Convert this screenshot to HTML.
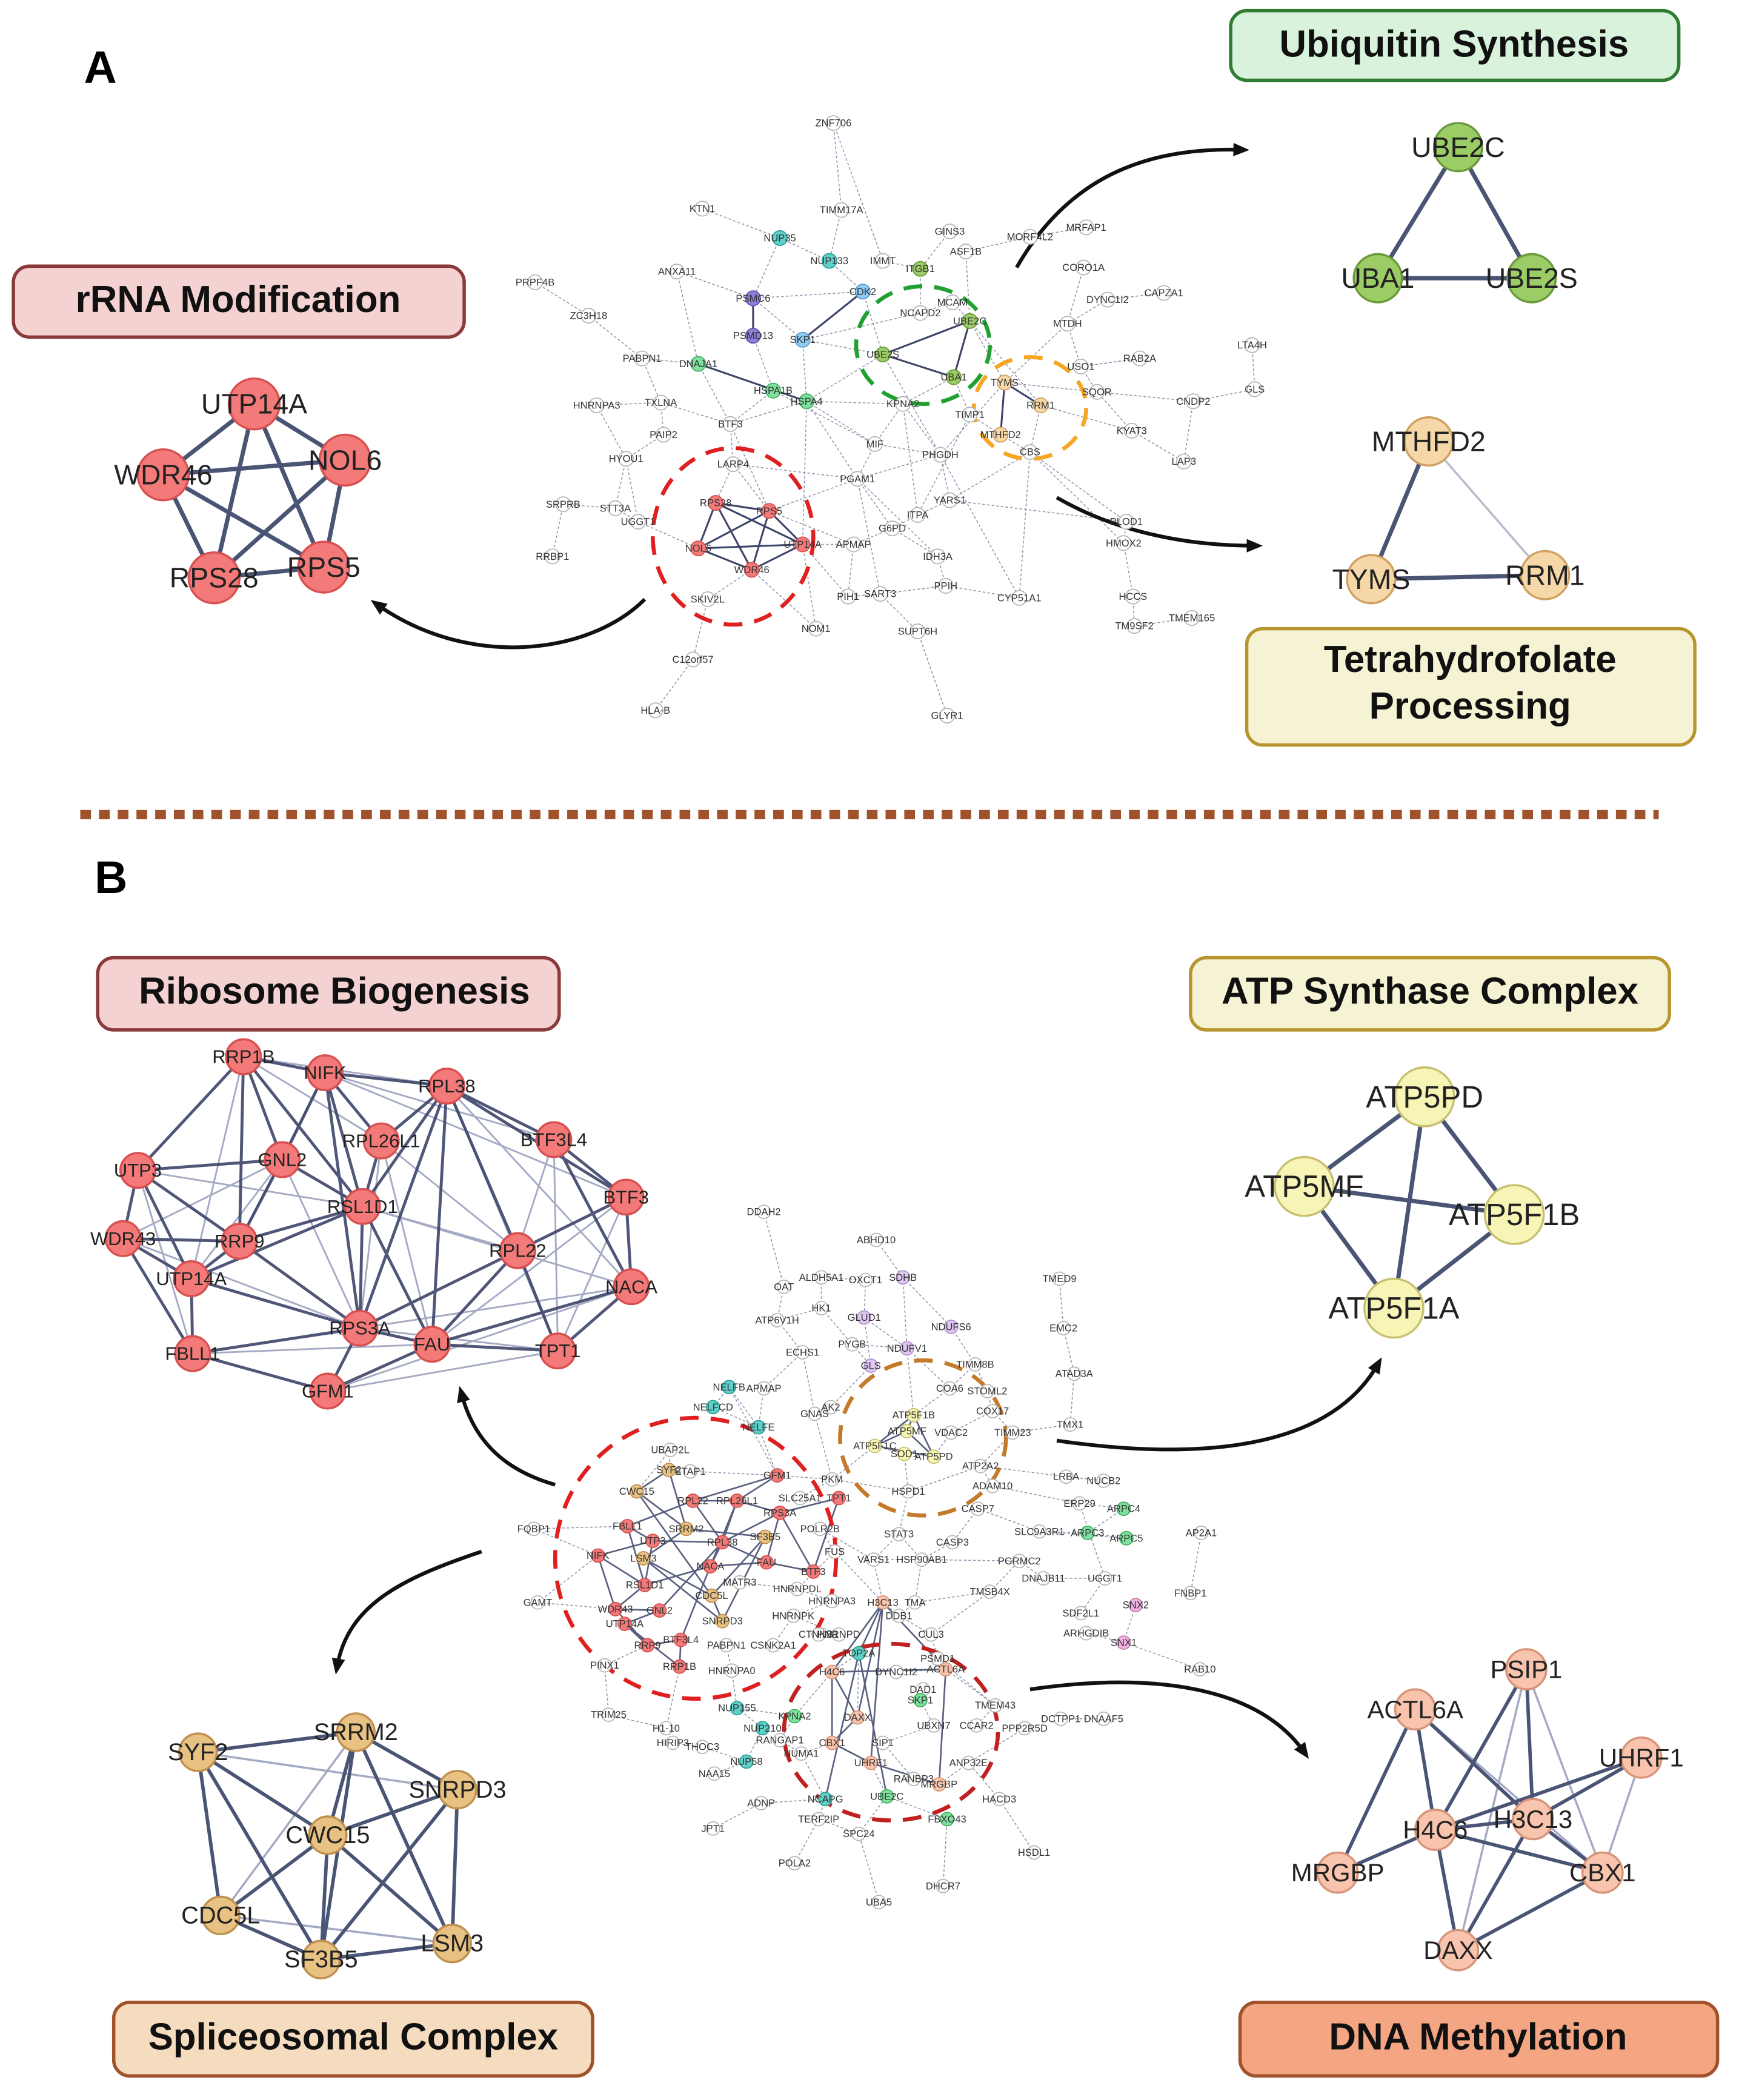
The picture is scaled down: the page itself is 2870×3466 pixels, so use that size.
<!DOCTYPE html>
<html><head><meta charset="utf-8">
<style>
html,body{margin:0;padding:0;background:#fff;}
svg{display:block;}
text{font-family:"Liberation Sans",sans-serif;dominant-baseline:central;text-anchor:middle;fill:#222;}
.ct text{font-size:7.5px;fill:#333;}
.title{font-weight:bold;font-size:28px;fill:#111;}
circle{stroke-width:0.8;}
circle.w{fill:#fff;stroke:#b5b5b5;}
circle.r{fill:#f47a7a;stroke:#d85050;}
circle.g{fill:#9ccc65;stroke:#6a9a3a;}
circle.o{fill:#f6d7a7;stroke:#d0a060;}
circle.c{fill:#5fd0c8;stroke:#30a098;}
circle.p{fill:#8e7fd6;stroke:#6050b0;}
circle.b{fill:#8ecdf5;stroke:#5a9ad0;}
circle.e{fill:#80e0a0;stroke:#40b060;}
circle.y{fill:#f7f5b5;stroke:#c8c070;}
circle.t{fill:#e8c283;stroke:#c09050;}
circle.s{fill:#f8c4ae;stroke:#d89478;}
circle.l{fill:#e0c8f0;stroke:#b090d0;}
circle.m{fill:#f0b0e0;stroke:#c080b0;}
.bg circle{stroke-width:1.6;}
</style></head>
<body>
<svg xmlns="http://www.w3.org/2000/svg" width="2870" height="3466" viewBox="0 0 1300 1570">
<defs>
<marker id="ah" markerWidth="14" markerHeight="12" refX="6" refY="5" orient="auto" markerUnits="userSpaceOnUse"><path d="M0,0 L12,5 L0,10 z" fill="#111"/></marker>
</defs>
<rect width="1300" height="1570" fill="#fff"/>

<text x="75" y="50" style="font-size:34px;font-weight:bold;fill:#000">A</text>
<text x="83" y="656" style="font-size:34px;font-weight:bold;fill:#000">B</text>

<rect x="920" y="8" width="335" height="52" rx="12" fill="#d9f2dc" stroke="#2e7d32" stroke-width="2.5"/>
<text x="1087" y="33" class="title">Ubiquitin Synthesis</text>
<rect x="10" y="199" width="337" height="53" rx="12" fill="#f5d2d2" stroke="#8b3a3a" stroke-width="2.5"/>
<text x="178" y="224" class="title">rRNA Modification</text>
<rect x="932" y="470" width="335" height="87" rx="12" fill="#f6f2d4" stroke="#b8962e" stroke-width="2.5"/>
<text x="1099" y="493" class="title">Tetrahydrofolate</text>
<text x="1099" y="528" class="title">Processing</text>
<line x1="60" y1="609" x2="1240" y2="609" stroke="#a0522d" stroke-width="7" stroke-dasharray="8,6"/>
<rect x="73" y="716" width="345" height="54" rx="12" fill="#f5d2d2" stroke="#8b3a3a" stroke-width="2.5"/>
<text x="250" y="741" class="title">Ribosome Biogenesis</text>
<rect x="890" y="716" width="358" height="54" rx="12" fill="#f6f2d4" stroke="#b8962e" stroke-width="2.5"/>
<text x="1069" y="741" class="title">ATP Synthase Complex</text>
<rect x="85" y="1497" width="358" height="55" rx="12" fill="#f5dcbf" stroke="#a0522d" stroke-width="2.5"/>
<text x="264" y="1523" class="title">Spliceosomal Complex</text>
<rect x="927" y="1497" width="357" height="55" rx="12" fill="#f4a582" stroke="#a0522d" stroke-width="2.5"/>
<text x="1105" y="1523" class="title">DNA Methylation</text>

<!-- ===== Central A edges ===== -->
<path fill="none" stroke="#8f95ad" stroke-width="0.7" stroke-dasharray="2,1.5" d="
M623,92L629,157 M623,92L660,195 M525,156L583,178 M629,157L620,195 M583,178L620,195 M583,178L563,223 M710,173L688,201 M722,188L725,240 M770,177L722,188 M812,170L770,177 M620,195L645,218 M660,195L688,201 M688,201L688,234 M810,200L798,242 M506,203L563,223 M506,203L522,272 M563,223L600,254 M645,218L660,265 M688,234L712,226 M712,226L725,240 M828,224L870,219 M828,224L798,242 M400,211L440,236 M440,236L480,268 M563,251L578,292 M600,254L603,300 M725,240L751,286 M798,242L808,274 M480,268L522,272 M480,268L494,301 M852,268L808,274 M936,258L938,291 M808,274L820,293 M446,303L494,301 M446,303L468,343 M494,301L496,325 M578,292L546,317 M603,300L546,317 M603,300L675,302 M603,300L660,265 M713,282L675,302 M713,282L725,310 M751,286L820,293 M820,293L892,300 M892,300L938,291 M892,300L885,345 M778,303L770,338 M675,302L654,332 M496,325L468,343 M546,317L548,347 M725,310L748,325 M748,325L770,338 M846,322L885,345 M846,322L820,293 M468,343L460,380 M548,347L535,376 M548,347L575,382 M654,332L641,358 M703,340L641,358 M703,340L675,302 M770,338L710,374 M641,358L667,395 M421,377L460,380 M460,380L477,390 M477,390L522,410 M710,374L686,385 M770,338L842,390 M842,390L840,406 M686,385L667,395 M600,407L638,407 M638,407L667,395 M667,395L701,416 M413,416L421,377 M562,426L529,448 M638,407L634,446 M634,446L658,444 M658,444L707,438 M701,416L707,438 M707,438L762,447 M840,406L847,446 M847,446L848,468 M848,468L891,462 M600,407L610,470 M658,444L686,472 M529,448L518,493 M518,493L490,531 M686,472L708,535 M603,300L641,358 M603,300L654,332 M703,340L762,447 M770,338L840,406 M603,300L600,407 M546,317L575,382 M600,254L660,265 M675,302L686,385 M710,374L842,390 M654,332L703,340 M563,223L645,218 M600,254L688,234 M522,272L546,317 M494,301L546,317 M468,343L477,390 M578,292L654,332 M660,265L703,340 M751,286L703,340 M778,303L846,322 M725,310L686,385 M641,358L701,416 M575,382L638,407 M600,407L634,446 M562,426L610,470 M575,382L641,358 M641,358L658,444 M770,338L762,447 M808,274L852,268 M798,242L751,286 M725,240L778,303 M548,347L641,358 M770,338L710,374 M703,340L710,374"/>
<path fill="none" stroke="#3c4468" stroke-width="1.4" d="
M522,272L603,300 M563,223L563,251 M600,254L645,218 M725,240L660,265 M725,240L713,282 M660,265L713,282 M751,286L748,325 M751,286L778,303
M535,376L575,382 M535,376L522,410 M535,376L600,407 M535,376L562,426 M575,382L522,410 M575,382L600,407 M575,382L562,426 M522,410L600,407 M522,410L562,426 M600,407L562,426"/>
<ellipse cx="548" cy="401" rx="60" ry="66" fill="none" stroke="#e02020" stroke-width="3" stroke-dasharray="14,9"/>
<ellipse cx="690" cy="258" rx="50" ry="44" fill="none" stroke="#20a030" stroke-width="3" stroke-dasharray="14,9"/>
<ellipse cx="770" cy="305" rx="42" ry="38" fill="none" stroke="#f5a623" stroke-width="3" stroke-dasharray="14,9"/>

<!-- ===== Central B edges ===== -->
<path fill="none" stroke="#8f95ad" stroke-width="0.7" stroke-dasharray="2,1.5" d="
M571,906L586,962 M655,927L675,955 M792,956L795,993 M614,955L614,978 M647,957L646,985 M675,955L711,992 M586,962L581,987 M614,978L637,1005 M646,985L678,1008 M711,992L729,1020 M581,987L600,1011 M795,993L803,1027 M637,1005L651,1021 M600,1011L571,1038 M678,1008L710,1038 M729,1020L738,1040 M803,1027L800,1065 M545,1037L533,1052 M533,1052L567,1067 M545,1037L567,1067 M621,1052L609,1057 M742,1055L757,1071 M711,1071L698,1089 M654,1081L676,1087 M501,1084L500,1099 M516,1100L581,1103 M622,1106L598,1120 M797,1104L825,1107 M733,1096L742,1111 M679,1115L672,1147 M807,1124L840,1128 M613,1143L624,1160 M731,1128L712,1153 M399,1143L447,1163 M672,1147L653,1166 M777,1145L813,1146 M898,1146L890,1191 M689,1166L684,1198 M762,1167L780,1180 M826,1180L808,1206 M740,1190L696,1222 M402,1198L460,1203 M660,1198L672,1208 M849,1200L840,1228 M812,1221L840,1228 M696,1222L701,1240 M642,1236L622,1250 M452,1245L484,1230 M547,1249L543,1230 M670,1250L707,1248 M897,1248L840,1228 M690,1263L688,1271 M744,1275L730,1290 M793,1285L825,1285 M455,1282L498,1292 M551,1277L570,1292 M594,1283L583,1301 M698,1290L660,1303 M766,1292L724,1318 M503,1303L525,1306 M599,1311L617,1345 M558,1317L570,1292 M534,1326L558,1317 M683,1330L702,1334 M569,1348L617,1345 M747,1345L724,1318 M533,1367L569,1348 M612,1360L642,1371 M708,1360L663,1343 M773,1385L747,1345 M594,1393L612,1360 M705,1410L708,1360 M657,1422L642,1371 M689,1166L653,1166 M624,1160L596,1188 M593,1208L622,1197 M627,1222L593,1208 M578,1230L593,1208 M553,1183L596,1188 M651,1021L621,1052 M676,1087L679,1115 M622,1106L679,1115 M672,1147L689,1166 M712,1153L689,1166 M733,1096L679,1115 M740,1190L762,1167 M672,1208L696,1222 M672,1208L684,1198 M777,1145L842,1150 M813,1146L842,1150 M840,1128L813,1146 M609,1057L622,1106 M826,1180L780,1180 M807,1124L826,1180 M742,1055L711,1071 M738,1040L742,1055 M710,1038L683,1058 M600,1011L609,1057 M571,1038L567,1067 M581,1103L622,1106 M613,1143L653,1166 M689,1166L762,1167 M731,1128L777,1145 M733,1096L797,1104 M757,1071L733,1096 M800,1065L757,1071 M742,1111L807,1124 M684,1198L740,1190 M701,1240L744,1275 M707,1248L744,1275 M688,1271L698,1290 M660,1303L683,1330 M724,1318L702,1334 M622,1303L651,1318 M599,1311L622,1303 M583,1301L599,1311 M525,1306L558,1317 M498,1292L503,1303 M551,1277L594,1283 M508,1246L498,1292 M547,1249L551,1277 M641,1284L642,1236 M622,1250L594,1283 M612,1360L617,1345 M642,1371L663,1343 M663,1343L651,1318 M596,1188L622,1197 M653,1166L660,1198 M624,1160L660,1198 M399,1143L469,1141 M402,1198L447,1163 M452,1245L455,1282 M501,1084L476,1115 M545,1037L581,1103 M567,1067L581,1103 M654,1081L622,1106 M678,1008L683,1058 M729,1020L710,1038 M646,985L651,1021 M675,955L678,1008 M614,955L647,957 M637,1005L678,1008 M581,987L614,978"/>
<path fill="none" stroke="#3c4468" stroke-width="1.2" stroke-opacity="0.85" d="
M581,1103L518,1122 M581,1103L551,1122 M518,1122L551,1122 M551,1122L583,1131 M583,1131L627,1120 M583,1131L573,1168 M518,1122L469,1141 M469,1141L488,1152 M488,1152L540,1153 M540,1153L531,1171 M447,1163L488,1152 M447,1163L482,1185 M531,1171L573,1168 M573,1168L608,1175 M482,1185L460,1203 M460,1203L493,1204 M493,1204L467,1214 M467,1214L484,1230 M484,1230L509,1226 M509,1226L508,1246 M540,1153L583,1131 M518,1122L540,1153 M482,1185L531,1171 M493,1204L540,1153 M469,1141L482,1185 M551,1122L531,1171 M627,1120L608,1175 M583,1131L608,1175 M467,1214L508,1246 M460,1203L484,1230 M447,1163L460,1203 M488,1152L482,1185 M551,1122L540,1153 M509,1226L531,1171 M573,1168L540,1153
M476,1115L500,1099 M476,1115L513,1143 M500,1099L513,1143 M513,1143L572,1149 M513,1143L481,1165 M481,1165L532,1193 M532,1193L540,1212 M572,1149L540,1212 M476,1115L532,1193 M572,1149L532,1193 M481,1165L540,1212
M683,1058L678,1070 M678,1070L654,1081 M654,1081L698,1089 M683,1058L698,1089 M678,1070L698,1089 M683,1058L654,1081
M660,1198L622,1250 M660,1198L707,1248 M622,1250L707,1248 M622,1250L641,1284 M660,1198L641,1284 M641,1284L622,1303 M622,1303L651,1318 M651,1318L702,1334 M707,1248L702,1334 M622,1250L622,1303 M660,1198L651,1318 M642,1236L660,1198 M642,1236L663,1343 M617,1345L642,1236"/>
<ellipse cx="520" cy="1165" rx="105" ry="105" fill="none" stroke="#e02020" stroke-width="3" stroke-dasharray="14,9"/>
<ellipse cx="690" cy="1075" rx="62" ry="58" fill="none" stroke="#c47a2a" stroke-width="3" stroke-dasharray="14,9"/>
<ellipse cx="666" cy="1295" rx="80" ry="66" fill="none" stroke="#c02020" stroke-width="3" stroke-dasharray="14,9"/>

<!-- arrows -->
<g fill="none" stroke="#111" stroke-width="2.8" marker-end="url(#ah)">
<path d="M760,200 C800,130 860,110 928,112"/>
<path d="M790,372 C830,395 880,408 938,408"/>
<path d="M482,448 C440,490 350,500 282,452"/>
<path d="M415,1110 C380,1100 355,1080 345,1042"/>
<path d="M360,1160 C300,1180 260,1200 252,1246"/>
<path d="M790,1077 C880,1090 990,1090 1030,1020"/>
<path d="M770,1263 C860,1250 940,1260 975,1310"/>
</g>

<!-- ===== Big network edges ===== -->
<path fill="none" stroke="#4a5475" stroke-width="3.2" d="
M190,302L258,344 M190,302L242,424 M190,302L160,432 M190,302L122,355 M258,344L242,424 M258,344L160,432 M258,344L122,355 M242,424L160,432 M242,424L122,355 M160,432L122,355
M1090,110L1030,208 M1090,110L1145,208 M1030,208L1145,208
M1068,330L1025,433 M1025,433L1155,430
M1065,820L975,887 M1065,820L1132,908 M1065,820L1042,978 M975,887L1132,908 M975,887L1042,978 M1132,908L1042,978"/>
<path fill="none" stroke="#b8bccb" stroke-width="1.6" d="M1068,330L1155,430"/>
<!-- ribosome -->
<path fill="none" stroke="#a4aac4" stroke-width="1.3" d="
M182,790L334,812 M182,790L285,853 M243,802L414,852 M243,802L468,895 M334,812L472,962 M334,812L417,1010 M414,852L387,935 M414,852L417,1010 M468,895L417,1010 M468,895L323,1005 M285,853L387,935 M285,853L269,993 M285,853L323,1005 M211,867L269,993 M211,867L143,956 M103,875L271,902 M103,875L144,1012 M92,926L269,993 M144,1012L323,1005 M245,1040L417,1010 M245,1040L472,962 M269,993L417,1010 M269,993L472,962 M271,902L387,935 M271,902L472,962 M211,867L92,926 M182,790L143,956 M243,802L179,928"/>
<path fill="none" stroke="#3c4468" stroke-width="2.2" stroke-opacity="0.9" d="
M182,790L243,802 M182,790L103,875 M182,790L211,867 M182,790L179,928 M182,790L271,902 M243,802L211,867 M243,802L271,902 M243,802L334,812 M243,802L285,853 M243,802L269,993 M334,812L414,852 M334,812L285,853 M334,812L271,902 M334,812L269,993 M334,812L323,1005 M334,812L387,935 M414,852L468,895 M414,852L472,962 M468,895L472,962 M468,895L387,935 M472,962L417,1010 M472,962L323,1005 M387,935L323,1005 M387,935L417,1010 M387,935L269,993 M103,875L92,926 M103,875L179,928 M103,875L143,956 M103,875L211,867 M92,926L179,928 M92,926L143,956 M92,926L144,1012 M179,928L143,956 M179,928L271,902 M179,928L269,993 M143,956L144,1012 M143,956L269,993 M144,1012L245,1040 M144,1012L269,993 M245,1040L269,993 M245,1040L323,1005 M269,993L323,1005 M211,867L271,902 M285,853L271,902 M271,902L269,993 M271,902L323,1005 M211,867L179,928 M143,956L271,902 M417,1010L323,1005 M334,812L468,895"/>
<!-- splice -->
<path fill="none" stroke="#a4aac4" stroke-width="1.6" d="M148,1310L342,1338 M266,1295L165,1432 M165,1432L338,1453"/>
<path fill="none" stroke="#4a5475" stroke-width="2.6" d="
M148,1310L266,1295 M148,1310L245,1372 M148,1310L165,1432 M148,1310L240,1465 M266,1295L342,1338 M266,1295L245,1372 M266,1295L240,1465 M266,1295L338,1453 M342,1338L245,1372 M342,1338L338,1453 M245,1372L165,1432 M245,1372L240,1465 M245,1372L338,1453 M165,1432L240,1465 M240,1465L338,1453 M342,1338L240,1465"/>
<!-- DNA -->
<path fill="none" stroke="#a4aac4" stroke-width="1.6" d="M1141,1248L1198,1400 M1227,1314L1198,1400 M1141,1248L1090,1458 M1058,1278L1198,1400"/>
<path fill="none" stroke="#4a5475" stroke-width="2.6" d="
M1058,1278L1073,1368 M1058,1278L1000,1400 M1141,1248L1073,1368 M1141,1248L1146,1360 M1227,1314L1146,1360 M1227,1314L1073,1368 M1146,1360L1073,1368 M1146,1360L1198,1400 M1146,1360L1090,1458 M1073,1368L1090,1458 M1073,1368L1198,1400 M1198,1400L1090,1458 M1073,1368L1000,1400 M1058,1278L1146,1360"/>

<!-- ===== Central A circles ===== -->
<g>
<circle cx="623" cy="92" r="5.5" class="w"/><circle cx="525" cy="156" r="5.5" class="w"/><circle cx="629" cy="157" r="5.5" class="w"/>
<circle cx="583" cy="178" r="5.5" class="c"/><circle cx="710" cy="173" r="5.5" class="w"/><circle cx="722" cy="188" r="5.5" class="w"/>
<circle cx="770" cy="177" r="5.5" class="w"/><circle cx="812" cy="170" r="5.5" class="w"/><circle cx="620" cy="195" r="5.5" class="c"/>
<circle cx="660" cy="195" r="5.5" class="w"/><circle cx="688" cy="201" r="5.5" class="g"/><circle cx="810" cy="200" r="5.5" class="w"/>
<circle cx="506" cy="203" r="5.5" class="w"/><circle cx="563" cy="223" r="5.5" class="p"/><circle cx="645" cy="218" r="5.5" class="b"/>
<circle cx="688" cy="234" r="5.5" class="w"/><circle cx="712" cy="226" r="5.5" class="w"/><circle cx="828" cy="224" r="5.5" class="w"/>
<circle cx="870" cy="219" r="5.5" class="w"/><circle cx="400" cy="211" r="5.5" class="w"/><circle cx="440" cy="236" r="5.5" class="w"/>
<circle cx="563" cy="251" r="5.5" class="p"/><circle cx="600" cy="254" r="5.5" class="b"/><circle cx="725" cy="240" r="5.5" class="g"/>
<circle cx="798" cy="242" r="5.5" class="w"/><circle cx="660" cy="265" r="5.5" class="g"/><circle cx="480" cy="268" r="5.5" class="w"/>
<circle cx="522" cy="272" r="5.5" class="e"/><circle cx="852" cy="268" r="5.5" class="w"/><circle cx="936" cy="258" r="5.5" class="w"/>
<circle cx="808" cy="274" r="5.5" class="w"/><circle cx="446" cy="303" r="5.5" class="w"/><circle cx="494" cy="301" r="5.5" class="w"/>
<circle cx="578" cy="292" r="5.5" class="e"/><circle cx="603" cy="300" r="5.5" class="e"/><circle cx="713" cy="282" r="5.5" class="g"/>
<circle cx="751" cy="286" r="5.5" class="o"/><circle cx="820" cy="293" r="5.5" class="w"/><circle cx="892" cy="300" r="5.5" class="w"/>
<circle cx="938" cy="291" r="5.5" class="w"/><circle cx="778" cy="303" r="5.5" class="o"/><circle cx="675" cy="302" r="5.5" class="w"/>
<circle cx="496" cy="325" r="5.5" class="w"/><circle cx="546" cy="317" r="5.5" class="w"/><circle cx="725" cy="310" r="5.5" class="w"/>
<circle cx="748" cy="325" r="5.5" class="o"/><circle cx="846" cy="322" r="5.5" class="w"/><circle cx="885" cy="345" r="5.5" class="w"/>
<circle cx="468" cy="343" r="5.5" class="w"/><circle cx="548" cy="347" r="5.5" class="w"/><circle cx="654" cy="332" r="5.5" class="w"/>
<circle cx="703" cy="340" r="5.5" class="w"/><circle cx="770" cy="338" r="5.5" class="w"/><circle cx="641" cy="358" r="5.5" class="w"/>
<circle cx="421" cy="377" r="5.5" class="w"/><circle cx="460" cy="380" r="5.5" class="w"/><circle cx="477" cy="390" r="5.5" class="w"/>
<circle cx="535" cy="376" r="5.5" class="r"/><circle cx="575" cy="382" r="5.5" class="r"/><circle cx="710" cy="374" r="5.5" class="w"/>
<circle cx="842" cy="390" r="5.5" class="w"/><circle cx="686" cy="385" r="5.5" class="w"/><circle cx="522" cy="410" r="5.5" class="r"/>
<circle cx="600" cy="407" r="5.5" class="r"/><circle cx="638" cy="407" r="5.5" class="w"/><circle cx="667" cy="395" r="5.5" class="w"/>
<circle cx="701" cy="416" r="5.5" class="w"/><circle cx="840" cy="406" r="5.5" class="w"/><circle cx="413" cy="416" r="5.5" class="w"/>
<circle cx="562" cy="426" r="5.5" class="r"/><circle cx="634" cy="446" r="5.5" class="w"/><circle cx="658" cy="444" r="5.5" class="w"/>
<circle cx="707" cy="438" r="5.5" class="w"/><circle cx="762" cy="447" r="5.5" class="w"/><circle cx="847" cy="446" r="5.5" class="w"/>
<circle cx="529" cy="448" r="5.5" class="w"/><circle cx="848" cy="468" r="5.5" class="w"/><circle cx="891" cy="462" r="5.5" class="w"/>
<circle cx="610" cy="470" r="5.5" class="w"/><circle cx="686" cy="472" r="5.5" class="w"/><circle cx="518" cy="493" r="5.5" class="w"/>
<circle cx="490" cy="531" r="5.5" class="w"/><circle cx="708" cy="535" r="5.5" class="w"/>
</g>
<!-- ===== Central B circles ===== -->
<g>
<circle cx="571" cy="906" r="5" class="w"/><circle cx="655" cy="927" r="5" class="w"/><circle cx="792" cy="956" r="5" class="w"/>
<circle cx="614" cy="955" r="5" class="w"/><circle cx="647" cy="957" r="5" class="w"/><circle cx="675" cy="955" r="5" class="l"/>
<circle cx="586" cy="962" r="5" class="w"/><circle cx="614" cy="978" r="5" class="w"/><circle cx="646" cy="985" r="5" class="l"/>
<circle cx="711" cy="992" r="5" class="l"/><circle cx="581" cy="987" r="5" class="w"/><circle cx="795" cy="993" r="5" class="w"/>
<circle cx="637" cy="1005" r="5" class="w"/><circle cx="600" cy="1011" r="5" class="w"/><circle cx="678" cy="1008" r="5" class="l"/>
<circle cx="651" cy="1021" r="5" class="l"/><circle cx="729" cy="1020" r="5" class="w"/><circle cx="803" cy="1027" r="5" class="w"/>
<circle cx="545" cy="1037" r="5" class="c"/><circle cx="571" cy="1038" r="5" class="w"/><circle cx="710" cy="1038" r="5" class="w"/>
<circle cx="738" cy="1040" r="5" class="w"/><circle cx="533" cy="1052" r="5" class="c"/><circle cx="621" cy="1052" r="5" class="w"/>
<circle cx="609" cy="1057" r="5" class="w"/><circle cx="742" cy="1055" r="5" class="w"/><circle cx="683" cy="1058" r="5" class="y"/>
<circle cx="567" cy="1067" r="5" class="c"/><circle cx="678" cy="1070" r="5" class="y"/><circle cx="711" cy="1071" r="5" class="w"/>
<circle cx="654" cy="1081" r="5" class="y"/><circle cx="676" cy="1087" r="5" class="y"/><circle cx="698" cy="1089" r="5" class="y"/>
<circle cx="757" cy="1071" r="5" class="w"/><circle cx="800" cy="1065" r="5" class="w"/>
<circle cx="501" cy="1084" r="5" class="w"/><circle cx="500" cy="1099" r="5" class="t"/><circle cx="516" cy="1100" r="5" class="w"/>
<circle cx="581" cy="1103" r="5" class="r"/><circle cx="622" cy="1106" r="5" class="w"/><circle cx="797" cy="1104" r="5" class="w"/>
<circle cx="825" cy="1107" r="5" class="w"/><circle cx="733" cy="1096" r="5" class="w"/><circle cx="679" cy="1115" r="5" class="w"/>
<circle cx="742" cy="1111" r="5" class="w"/><circle cx="476" cy="1115" r="5" class="t"/><circle cx="518" cy="1122" r="5" class="r"/>
<circle cx="551" cy="1122" r="5" class="r"/><circle cx="598" cy="1120" r="5" class="w"/><circle cx="627" cy="1120" r="5" class="r"/>
<circle cx="583" cy="1131" r="5" class="r"/><circle cx="807" cy="1124" r="5" class="w"/><circle cx="613" cy="1143" r="5" class="w"/>
<circle cx="840" cy="1128" r="5" class="e"/><circle cx="731" cy="1128" r="5" class="w"/><circle cx="399" cy="1143" r="5" class="w"/>
<circle cx="469" cy="1141" r="5" class="r"/><circle cx="513" cy="1143" r="5" class="t"/><circle cx="488" cy="1152" r="5" class="r"/>
<circle cx="540" cy="1153" r="5" class="r"/><circle cx="572" cy="1149" r="5" class="t"/><circle cx="624" cy="1160" r="5" class="w"/>
<circle cx="672" cy="1147" r="5" class="w"/><circle cx="777" cy="1145" r="5" class="w"/><circle cx="813" cy="1146" r="5" class="e"/>
<circle cx="842" cy="1150" r="5" class="e"/><circle cx="898" cy="1146" r="5" class="w"/><circle cx="447" cy="1163" r="5" class="r"/>
<circle cx="481" cy="1165" r="5" class="t"/><circle cx="531" cy="1171" r="5" class="r"/><circle cx="573" cy="1168" r="5" class="r"/>
<circle cx="608" cy="1175" r="5" class="r"/><circle cx="653" cy="1166" r="5" class="w"/><circle cx="689" cy="1166" r="5" class="w"/>
<circle cx="712" cy="1153" r="5" class="w"/><circle cx="762" cy="1167" r="5" class="w"/><circle cx="780" cy="1180" r="5" class="w"/>
<circle cx="553" cy="1183" r="5" class="w"/><circle cx="482" cy="1185" r="5" class="r"/><circle cx="532" cy="1193" r="5" class="t"/>
<circle cx="596" cy="1188" r="5" class="w"/><circle cx="890" cy="1191" r="5" class="w"/><circle cx="826" cy="1180" r="5" class="w"/>
<circle cx="740" cy="1190" r="5" class="w"/><circle cx="402" cy="1198" r="5" class="w"/><circle cx="460" cy="1203" r="5" class="r"/>
<circle cx="493" cy="1204" r="5" class="r"/><circle cx="622" cy="1197" r="5" class="w"/><circle cx="660" cy="1198" r="5" class="s"/>
<circle cx="684" cy="1198" r="5" class="w"/><circle cx="849" cy="1200" r="5" class="m"/><circle cx="467" cy="1214" r="5" class="r"/>
<circle cx="593" cy="1208" r="5" class="w"/><circle cx="540" cy="1212" r="5" class="t"/><circle cx="672" cy="1208" r="5" class="w"/>
<circle cx="808" cy="1206" r="5" class="w"/><circle cx="812" cy="1221" r="5" class="w"/><circle cx="696" cy="1222" r="5" class="w"/>
<circle cx="701" cy="1240" r="5" class="w"/><circle cx="840" cy="1228" r="5" class="m"/><circle cx="484" cy="1230" r="5" class="r"/>
<circle cx="509" cy="1226" r="5" class="r"/><circle cx="612" cy="1222" r="5" class="w"/><circle cx="627" cy="1222" r="5" class="w"/>
<circle cx="642" cy="1236" r="5" class="c"/><circle cx="578" cy="1230" r="5" class="w"/><circle cx="543" cy="1230" r="5" class="w"/>
<circle cx="452" cy="1245" r="5" class="w"/><circle cx="508" cy="1246" r="5" class="r"/><circle cx="547" cy="1249" r="5" class="w"/>
<circle cx="455" cy="1282" r="5" class="w"/><circle cx="622" cy="1250" r="5" class="s"/><circle cx="670" cy="1250" r="5" class="w"/>
<circle cx="707" cy="1248" r="5" class="s"/><circle cx="897" cy="1248" r="5" class="w"/><circle cx="690" cy="1263" r="5" class="w"/>
<circle cx="688" cy="1271" r="5" class="e"/><circle cx="744" cy="1275" r="5" class="w"/><circle cx="793" cy="1285" r="5" class="w"/>
<circle cx="825" cy="1285" r="5" class="w"/><circle cx="498" cy="1292" r="5" class="w"/><circle cx="551" cy="1277" r="5" class="c"/>
<circle cx="594" cy="1283" r="5" class="e"/><circle cx="641" cy="1284" r="5" class="s"/><circle cx="698" cy="1290" r="5" class="w"/>
<circle cx="730" cy="1290" r="5" class="w"/><circle cx="766" cy="1292" r="5" class="w"/><circle cx="503" cy="1303" r="5" class="w"/>
<circle cx="525" cy="1306" r="5" class="w"/><circle cx="583" cy="1301" r="5" class="w"/><circle cx="599" cy="1311" r="5" class="w"/>
<circle cx="622" cy="1303" r="5" class="s"/><circle cx="660" cy="1303" r="5" class="w"/><circle cx="570" cy="1292" r="5" class="c"/>
<circle cx="558" cy="1317" r="5" class="c"/><circle cx="724" cy="1318" r="5" class="w"/><circle cx="534" cy="1326" r="5" class="w"/>
<circle cx="651" cy="1318" r="5" class="s"/><circle cx="683" cy="1330" r="5" class="w"/><circle cx="702" cy="1334" r="5" class="s"/>
<circle cx="569" cy="1348" r="5" class="w"/><circle cx="663" cy="1343" r="5" class="e"/><circle cx="617" cy="1345" r="5" class="c"/>
<circle cx="747" cy="1345" r="5" class="w"/><circle cx="533" cy="1367" r="5" class="w"/><circle cx="612" cy="1360" r="5" class="w"/>
<circle cx="708" cy="1360" r="5" class="e"/><circle cx="642" cy="1371" r="5" class="w"/><circle cx="773" cy="1385" r="5" class="w"/>
<circle cx="594" cy="1393" r="5" class="w"/><circle cx="705" cy="1410" r="5" class="w"/><circle cx="657" cy="1422" r="5" class="w"/>
</g>

<!-- ===== Big network circles ===== -->
<g class="bg">
<circle cx="190" cy="302" r="19" class="r"/><circle cx="258" cy="344" r="19" class="r"/><circle cx="242" cy="424" r="19" class="r"/><circle cx="160" cy="432" r="19" class="r"/><circle cx="122" cy="355" r="19" class="r"/>
<circle cx="1090" cy="110" r="18" class="g"/><circle cx="1030" cy="208" r="18" class="g"/><circle cx="1145" cy="208" r="18" class="g"/>
<circle cx="1068" cy="330" r="18" class="o"/><circle cx="1025" cy="433" r="18" class="o"/><circle cx="1155" cy="430" r="18" class="o"/>
<circle cx="182" cy="790" r="13" class="r"/><circle cx="243" cy="802" r="13" class="r"/><circle cx="334" cy="812" r="13" class="r"/>
<circle cx="414" cy="852" r="13" class="r"/><circle cx="211" cy="867" r="13" class="r"/><circle cx="285" cy="853" r="13" class="r"/>
<circle cx="103" cy="875" r="13" class="r"/><circle cx="468" cy="895" r="13" class="r"/><circle cx="271" cy="902" r="13" class="r"/>
<circle cx="92" cy="926" r="13" class="r"/><circle cx="179" cy="928" r="13" class="r"/><circle cx="387" cy="935" r="13" class="r"/>
<circle cx="143" cy="956" r="13" class="r"/><circle cx="472" cy="962" r="13" class="r"/><circle cx="269" cy="993" r="13" class="r"/>
<circle cx="323" cy="1005" r="13" class="r"/><circle cx="144" cy="1012" r="13" class="r"/><circle cx="417" cy="1010" r="13" class="r"/>
<circle cx="245" cy="1040" r="13" class="r"/>
<circle cx="1065" cy="820" r="22" class="y"/><circle cx="975" cy="887" r="22" class="y"/><circle cx="1132" cy="908" r="22" class="y"/><circle cx="1042" cy="978" r="22" class="y"/>
<circle cx="148" cy="1310" r="14" class="t"/><circle cx="266" cy="1295" r="14" class="t"/><circle cx="342" cy="1338" r="14" class="t"/>
<circle cx="245" cy="1372" r="14" class="t"/><circle cx="165" cy="1432" r="14" class="t"/><circle cx="240" cy="1465" r="14" class="t"/><circle cx="338" cy="1453" r="14" class="t"/>
<circle cx="1141" cy="1248" r="15" class="s"/><circle cx="1058" cy="1278" r="15" class="s"/><circle cx="1227" cy="1314" r="15" class="s"/>
<circle cx="1146" cy="1360" r="15" class="s"/><circle cx="1073" cy="1368" r="15" class="s"/><circle cx="1000" cy="1400" r="15" class="s"/>
<circle cx="1198" cy="1400" r="15" class="s"/><circle cx="1090" cy="1458" r="15" class="s"/>
</g>

<!-- Central network A labels -->
<g class="ct">
<text x="623" y="92">ZNF706</text><text x="525" y="156">KTN1</text><text x="629" y="157">TIMM17A</text>
<text x="583" y="178">NUP35</text><text x="710" y="173">GINS3</text><text x="722" y="188">ASF1B</text>
<text x="770" y="177">MORF4L2</text><text x="812" y="170">MRFAP1</text><text x="620" y="195">NUP133</text>
<text x="660" y="195">IMMT</text><text x="688" y="201">ITGB1</text><text x="810" y="200">CORO1A</text>
<text x="506" y="203">ANXA11</text><text x="563" y="223">PSMC6</text><text x="645" y="218">CDK2</text>
<text x="688" y="234">NCAPD2</text><text x="712" y="226">MCAM</text><text x="828" y="224">DYNC1I2</text>
<text x="870" y="219">CAPZA1</text><text x="400" y="211">PRPF4B</text><text x="440" y="236">ZC3H18</text>
<text x="563" y="251">PSMD13</text><text x="600" y="254">SKP1</text><text x="725" y="240">UBE2C</text>
<text x="798" y="242">MTDH</text><text x="660" y="265">UBE2S</text><text x="480" y="268">PABPN1</text>
<text x="522" y="272">DNAJA1</text><text x="852" y="268">RAB2A</text><text x="936" y="258">LTA4H</text>
<text x="808" y="274">USO1</text><text x="446" y="303">HNRNPA3</text><text x="494" y="301">TXLNA</text>
<text x="578" y="292">HSPA1B</text><text x="603" y="300">HSPA4</text><text x="713" y="282">UBA1</text>
<text x="751" y="286">TYMS</text><text x="820" y="293">SQOR</text><text x="892" y="300">CNDP2</text>
<text x="938" y="291">GLS</text><text x="778" y="303">RRM1</text><text x="675" y="302">KPNA2</text>
<text x="496" y="325">PAIP2</text><text x="546" y="317">BTF3</text><text x="725" y="310">TIMP1</text>
<text x="748" y="325">MTHFD2</text><text x="846" y="322">KYAT3</text><text x="885" y="345">LAP3</text>
<text x="468" y="343">HYOU1</text><text x="548" y="347">LARP4</text><text x="654" y="332">MIF</text>
<text x="703" y="340">PHGDH</text><text x="770" y="338">CBS</text><text x="641" y="358">PGAM1</text>
<text x="421" y="377">SRPRB</text><text x="460" y="380">STT3A</text><text x="477" y="390">UGGT1</text>
<text x="535" y="376">RPS28</text><text x="575" y="382">RPS5</text><text x="710" y="374">YARS1</text>
<text x="842" y="390">PLOD1</text><text x="686" y="385">ITPA</text><text x="522" y="410">NOL6</text>
<text x="600" y="407">UTP14A</text><text x="638" y="407">APMAP</text><text x="667" y="395">G6PD</text>
<text x="701" y="416">IDH3A</text><text x="840" y="406">HMOX2</text><text x="413" y="416">RRBP1</text>
<text x="562" y="426">WDR46</text><text x="634" y="446">PIH1</text><text x="658" y="444">SART3</text>
<text x="707" y="438">PPIH</text><text x="762" y="447">CYP51A1</text><text x="847" y="446">HCCS</text>
<text x="529" y="448">SKIV2L</text><text x="848" y="468">TM9SF2</text><text x="891" y="462">TMEM165</text>
<text x="610" y="470">NOM1</text><text x="686" y="472">SUPT6H</text><text x="518" y="493">C12orf57</text>
<text x="490" y="531">HLA-B</text><text x="708" y="535">GLYR1</text>
</g>

<!-- Central network B labels -->
<g class="ct">
<text x="571" y="906">DDAH2</text><text x="655" y="927">ABHD10</text><text x="792" y="956">TMED9</text>
<text x="614" y="955">ALDH5A1</text><text x="647" y="957">OXCT1</text><text x="675" y="955">SDHB</text>
<text x="586" y="962">OAT</text><text x="614" y="978">HK1</text><text x="646" y="985">GLUD1</text>
<text x="711" y="992">NDUFS6</text><text x="581" y="987">ATP6V1H</text><text x="795" y="993">EMC2</text>
<text x="637" y="1005">PYGB</text><text x="600" y="1011">ECHS1</text><text x="678" y="1008">NDUFV1</text>
<text x="651" y="1021">GLS</text><text x="729" y="1020">TIMM8B</text><text x="803" y="1027">ATAD3A</text>
<text x="545" y="1037">NELFB</text><text x="571" y="1038">APMAP</text><text x="710" y="1038">COA6</text>
<text x="738" y="1040">STOML2</text><text x="533" y="1052">NELFCD</text><text x="621" y="1052">AK2</text>
<text x="609" y="1057">GNAS</text><text x="742" y="1055">COX17</text><text x="683" y="1058">ATP5F1B</text>
<text x="567" y="1067">NELFE</text><text x="678" y="1070">ATP5MF</text><text x="711" y="1071">VDAC2</text>
<text x="654" y="1081">ATP5F1C</text><text x="676" y="1087">SOD1</text><text x="698" y="1089">ATP5PD</text>
<text x="757" y="1071">TIMM23</text><text x="800" y="1065">TMX1</text>
<text x="501" y="1084">UBAP2L</text><text x="500" y="1099">SYF2</text><text x="516" y="1100">ETAP1</text>
<text x="581" y="1103">GFM1</text><text x="622" y="1106">PKM</text><text x="797" y="1104">LRBA</text>
<text x="825" y="1107">NUCB2</text><text x="733" y="1096">ATP2A2</text><text x="679" y="1115">HSPD1</text>
<text x="742" y="1111">ADAM10</text><text x="476" y="1115">CWC15</text><text x="518" y="1122">RPL22</text>
<text x="551" y="1122">RPL26L1</text><text x="598" y="1120">SLC25A1</text><text x="627" y="1120">TPT1</text>
<text x="583" y="1131">RPS3A</text><text x="807" y="1124">ERP29</text><text x="613" y="1143">POLR2B</text>
<text x="840" y="1128">ARPC4</text><text x="731" y="1128">CASP7</text><text x="399" y="1143">FQBP1</text>
<text x="469" y="1141">FBLL1</text><text x="513" y="1143">SRRM2</text><text x="488" y="1152">UTP3</text>
<text x="540" y="1153">RPL38</text><text x="572" y="1149">SF3B5</text><text x="624" y="1160">FUS</text>
<text x="672" y="1147">STAT3</text><text x="777" y="1145">SLC9A3R1</text><text x="813" y="1146">ARPC3</text>
<text x="842" y="1150">ARPC5</text><text x="898" y="1146">AP2A1</text><text x="447" y="1163">NIFK</text>
<text x="481" y="1165">LSM3</text><text x="531" y="1171">NACA</text><text x="573" y="1168">FAU</text>
<text x="608" y="1175">BTF3</text><text x="653" y="1166">VARS1</text><text x="689" y="1166">HSP90AB1</text>
<text x="712" y="1153">CASP3</text><text x="762" y="1167">PGRMC2</text><text x="780" y="1180">DNAJB11</text>
<text x="553" y="1183">MATR3</text><text x="482" y="1185">RSL1D1</text><text x="532" y="1193">CDC5L</text>
<text x="596" y="1188">HNRNPDL</text><text x="890" y="1191">FNBP1</text><text x="826" y="1180">UGGT1</text>
<text x="740" y="1190">TMSB4X</text><text x="402" y="1198">GAMT</text><text x="460" y="1203">WDR43</text>
<text x="493" y="1204">GNL2</text><text x="622" y="1197">HNRNPA3</text><text x="660" y="1198">H3C13</text>
<text x="684" y="1198">TMA</text><text x="849" y="1200">SNX2</text><text x="467" y="1214">UTP14A</text>
<text x="593" y="1208">HNRNPK</text><text x="540" y="1212">SNRPD3</text><text x="672" y="1208">DDB1</text>
<text x="808" y="1206">SDF2L1</text><text x="812" y="1221">ARHGDIB</text><text x="696" y="1222">CUL3</text>
<text x="701" y="1240">PSMD1</text><text x="840" y="1228">SNX1</text><text x="484" y="1230">RRP9</text>
<text x="509" y="1226">BTF3L4</text><text x="612" y="1222">CTNNB1</text><text x="627" y="1222">HNRNPD</text>
<text x="642" y="1236">TOP2A</text><text x="578" y="1230">CSNK2A1</text><text x="543" y="1230">PABPN1</text>
<text x="452" y="1245">PINX1</text><text x="508" y="1246">RRP1B</text><text x="547" y="1249">HNRNPA0</text>
<text x="455" y="1282">TRIM25</text><text x="622" y="1250">H4C6</text><text x="670" y="1250">DYNC1I2</text>
<text x="707" y="1248">ACTL6A</text><text x="897" y="1248">RAB10</text><text x="690" y="1263">DAD1</text>
<text x="688" y="1271">SKP1</text><text x="744" y="1275">TMEM43</text><text x="793" y="1285">DCTPP1</text>
<text x="825" y="1285">DNAAF5</text><text x="498" y="1292">H1-10</text><text x="551" y="1277">NUP155</text>
<text x="594" y="1283">KPNA2</text><text x="641" y="1284">DAXX</text><text x="698" y="1290">UBXN7</text>
<text x="730" y="1290">CCAR2</text><text x="766" y="1292">PPP2R5D</text><text x="503" y="1303">HIRIP3</text>
<text x="525" y="1306">THOC3</text><text x="583" y="1301">RANGAP1</text><text x="599" y="1311">NUMA1</text>
<text x="622" y="1303">CBX1</text><text x="660" y="1303">SIP1</text><text x="570" y="1292">NUP210</text>
<text x="558" y="1317">NUP58</text><text x="724" y="1318">ANP32E</text><text x="534" y="1326">NAA15</text>
<text x="651" y="1318">UHRF1</text><text x="683" y="1330">RANBP3</text><text x="702" y="1334">MRGBP</text>
<text x="569" y="1348">ADNP</text><text x="663" y="1343">UBE2C</text><text x="617" y="1345">NCAPG</text>
<text x="747" y="1345">HACD3</text><text x="533" y="1367">JPT1</text><text x="612" y="1360">TERF2IP</text>
<text x="708" y="1360">FBXO43</text><text x="642" y="1371">SPC24</text><text x="773" y="1385">HSDL1</text>
<text x="594" y="1393">POLA2</text><text x="705" y="1410">DHCR7</text><text x="657" y="1422">UBA5</text>
</g>

<!-- Labeled networks text -->
<g style="font-size:21px">
<text x="190" y="302">UTP14A</text><text x="258" y="344">NOL6</text><text x="242" y="424">RPS5</text>
<text x="160" y="432">RPS28</text><text x="122" y="355">WDR46</text>
<text x="1090" y="110">UBE2C</text><text x="1030" y="208">UBA1</text><text x="1145" y="208">UBE2S</text>
<text x="1068" y="330">MTHFD2</text><text x="1025" y="433">TYMS</text><text x="1155" y="430">RRM1</text>
</g>
<g style="font-size:14px">
<text x="182" y="790">RRP1B</text><text x="243" y="802">NIFK</text><text x="334" y="812">RPL38</text>
<text x="414" y="852">BTF3L4</text><text x="211" y="867">GNL2</text><text x="285" y="853">RPL26L1</text>
<text x="103" y="875">UTP3</text><text x="468" y="895">BTF3</text><text x="271" y="902">RSL1D1</text>
<text x="92" y="926">WDR43</text><text x="179" y="928">RRP9</text><text x="387" y="935">RPL22</text>
<text x="143" y="956">UTP14A</text><text x="472" y="962">NACA</text><text x="269" y="993">RPS3A</text>
<text x="323" y="1005">FAU</text><text x="144" y="1012">FBLL1</text><text x="417" y="1010">TPT1</text>
<text x="245" y="1040">GFM1</text>
</g>
<g style="font-size:23px">
<text x="1065" y="820">ATP5PD</text><text x="975" y="887">ATP5MF</text><text x="1132" y="908">ATP5F1B</text>
<text x="1042" y="978">ATP5F1A</text>
</g>
<g style="font-size:18px">
<text x="148" y="1310">SYF2</text><text x="266" y="1295">SRRM2</text><text x="342" y="1338">SNRPD3</text>
<text x="245" y="1372">CWC15</text><text x="165" y="1432">CDC5L</text><text x="240" y="1465">SF3B5</text>
<text x="338" y="1453">LSM3</text>
</g>
<g style="font-size:19px">
<text x="1141" y="1248">PSIP1</text><text x="1058" y="1278">ACTL6A</text><text x="1227" y="1314">UHRF1</text>
<text x="1146" y="1360">H3C13</text><text x="1073" y="1368">H4C6</text><text x="1000" y="1400">MRGBP</text>
<text x="1198" y="1400">CBX1</text><text x="1090" y="1458">DAXX</text>
</g>
</svg>
</body></html>
